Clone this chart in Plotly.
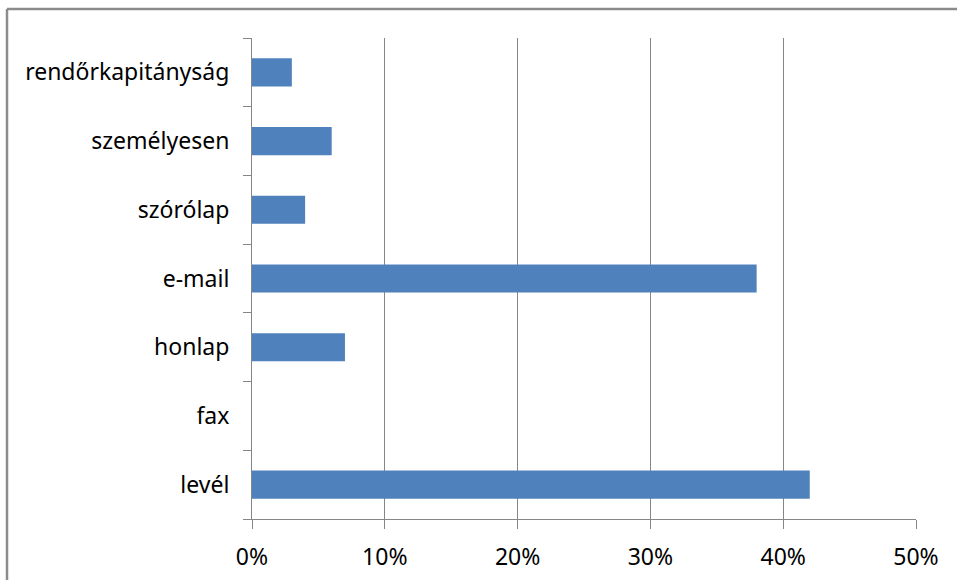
import plotly.graph_objects as go

categories = ["levél", "fax", "honlap", "e-mail", "szórólap", "személyesen", "rendőrkapitányság"]
values = [0.42, 0.0, 0.07, 0.38, 0.04, 0.06, 0.03]
tick_vals = [0, 0.1, 0.2, 0.3, 0.4, 0.5]
tick_text = ["0%", "10%", "20%", "30%", "40%", "50%"]

W, H = 957, 580
L, R, T, B = 252, 41, 38, 61
pw, ph = W - L - R, H - T - B

fig = go.Figure(go.Bar(
    y=categories, x=values, orientation="h",
    marker=dict(color="#4F81BD", line=dict(width=0)),
    width=0.41,
))

tfont = dict(family="Noto Sans, Open Sans, sans-serif", size=23, color="#000000")

fig.update_layout(
    width=W, height=H,
    margin=dict(l=L, r=R, t=T, b=B, pad=0, autoexpand=False),
    paper_bgcolor="white", plot_bgcolor="white",
    showlegend=False,
    xaxis=dict(
        range=[0, 0.5], tickvals=tick_vals, ticktext=tick_text,
        showgrid=True, gridcolor="#868686", gridwidth=1,
        showline=True, linecolor="#868686", linewidth=1,
        ticks="outside", ticklen=9, tickcolor="#868686", tickwidth=1,
        zeroline=False, ticklabelstandoff=8, tickfont=tfont, automargin=False,
    ),
    yaxis=dict(
        type="category", categoryorder="array", categoryarray=categories,
        showgrid=False,
        showline=True, linecolor="#868686", linewidth=1,
        ticks="outside", ticklen=8, tickcolor="#868686", tickwidth=1,
        tickson="boundaries", ticklabelstandoff=17, tickfont=tfont, automargin=False,
    ),
    shapes=[
        dict(type="line", xref="paper", yref="paper",
             x0=(7 - L) / pw, x1=(7 - L) / pw, y0=(H - 9 - B) / ph, y1=(-B - 5) / ph,
             line=dict(color="#8C8C8C", width=2.5)),
        dict(type="line", xref="paper", yref="paper",
             x0=(7 - L) / pw, x1=(W + 5 - L) / pw, y0=(H - 9 - B) / ph, y1=(H - 9 - B) / ph,
             line=dict(color="#8C8C8C", width=2.5)),
    ],
)

fig.write_html(
    "out.html",
    config={"displayModeBar": False},
    post_script="document.body.style.margin='0';document.body.style.overflow='hidden';",
)
